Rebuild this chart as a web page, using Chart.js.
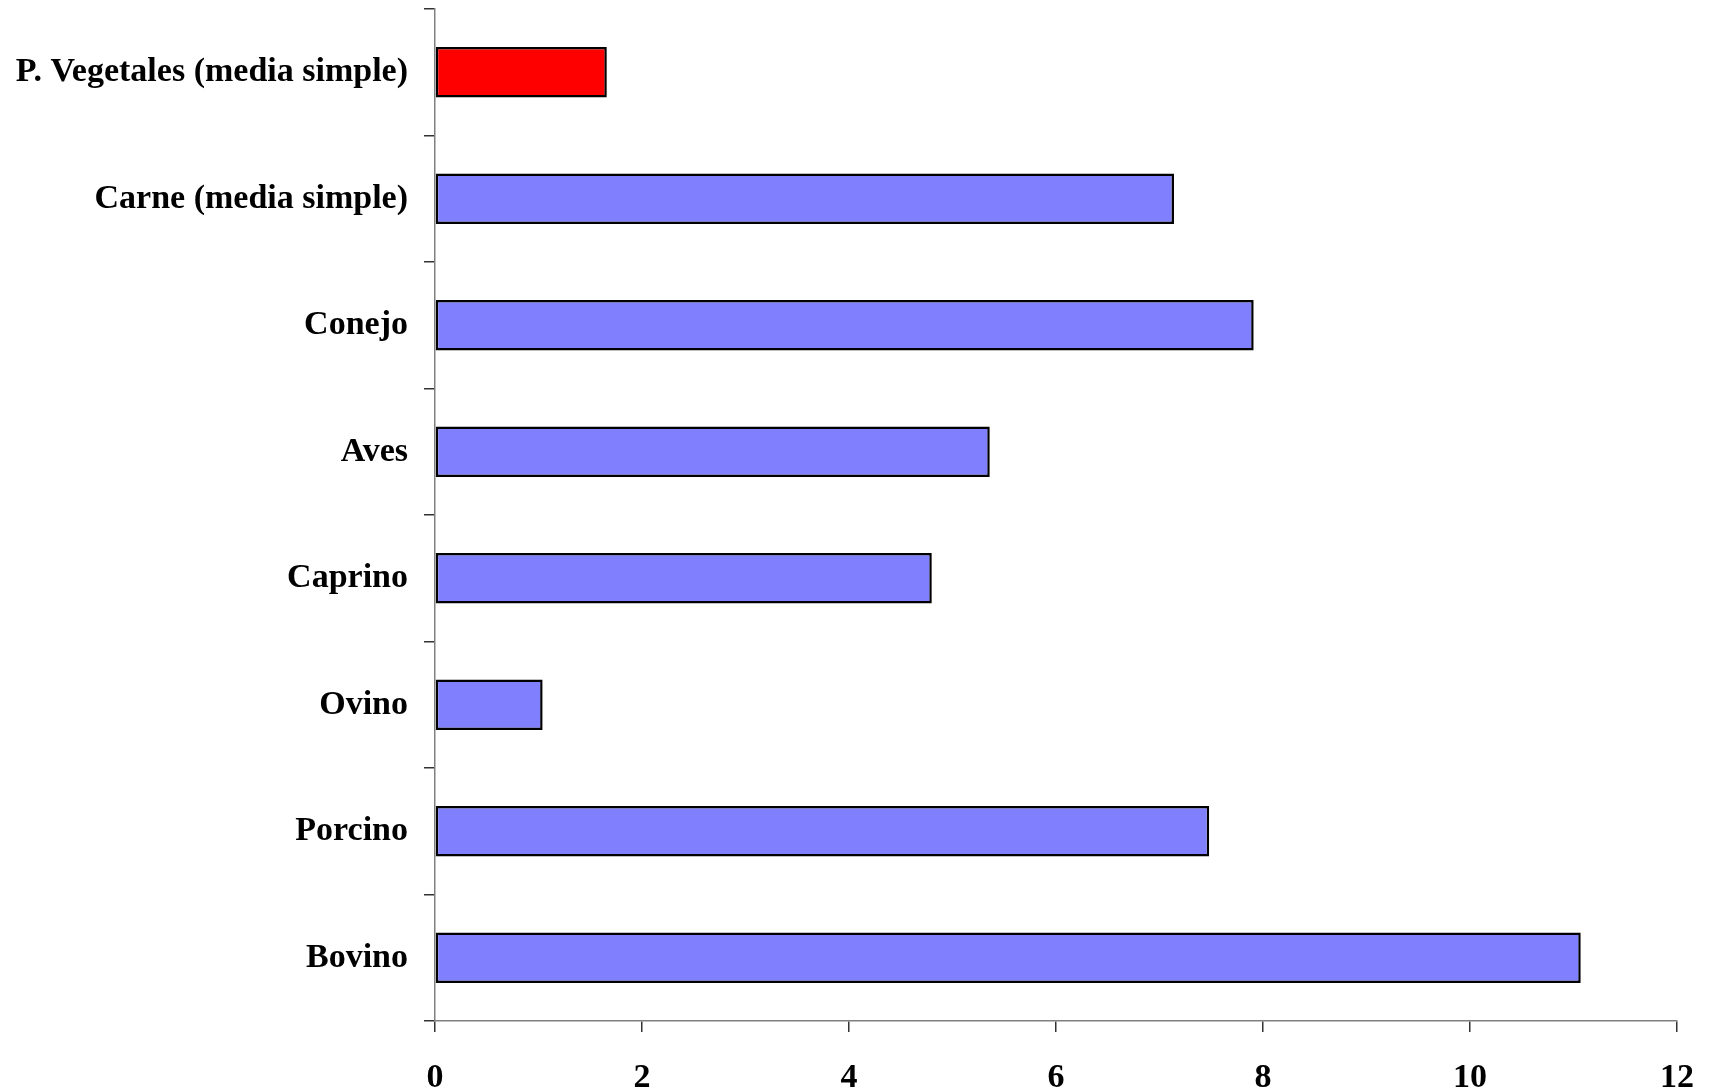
<!DOCTYPE html>
<html>
<head>
<meta charset="utf-8">
<script src="https://cdn.jsdelivr.net/npm/chart.js@4.4.1/dist/chart.umd.min.js"></script>
<style>
  html, body { margin: 0; padding: 0; background: #ffffff; }
  #wrap { width: 1709px; height: 1091px; position: relative; }
</style>
</head>
<body>
<div id="wrap"><canvas id="c" width="1709" height="1091"></canvas></div>
<script>
// Categories, top to bottom
const categories = [
  'P. Vegetales (media simple)',
  'Carne (media simple)',
  'Conejo',
  'Aves',
  'Caprino',
  'Ovino',
  'Porcino',
  'Bovino'
];
// Values per category
const values = [1.66, 7.14, 7.91, 5.36, 4.80, 1.04, 7.48, 11.07];
// Fill colours per category (plant average highlighted)
const barColors = ['#FF0000', '#8080FF', '#8080FF', '#8080FF', '#8080FF', '#8080FF', '#8080FF', '#8080FF'];
// Horizontal axis range and step
const xMin = 0;
const xMax = 12;
const xStep = 2;

const labelFont = { family: '"Liberation Serif", "Times New Roman", serif', size: 34, weight: 'bold' };

new Chart(document.getElementById('c'), {
  type: 'bar',
  data: {
    labels: categories,
    datasets: [{
      data: values,
      backgroundColor: barColors,
      borderColor: '#000000',
      borderWidth: 2.5,
      borderSkipped: false,
      barPercentage: 0.4,
      categoryPercentage: 1.0
    }]
  },
  options: {
    indexAxis: 'y',
    responsive: false,
    animation: false,
    devicePixelRatio: 1,
    layout: { padding: { top: 9, right: 32, left: 0, bottom: 0 } },
    plugins: {
      legend: { display: false },
      tooltip: { enabled: false }
    },
    scales: {
      x: {
        min: xMin,
        max: xMax,
        afterFit: (s) => { s.height = 70; s.paddingLeft = 0; s.paddingRight = 0; },
        ticks: {
          stepSize: xStep,
          color: '#000000',
          font: labelFont,
          padding: 26,
          maxRotation: 0
        },
        grid: {
          drawOnChartArea: false,
          drawTicks: true,
          tickLength: 11,
          color: '#333333',
          lineWidth: 1.5
        },
        border: { display: true, color: '#808080', width: 1.5 }
      },
      y: {
        afterFit: (s) => { s.width = 435; s.paddingTop = 0; s.paddingBottom = 0; },
        ticks: {
          color: '#000000',
          font: labelFont,
          padding: 16
        },
        grid: {
          offset: true,
          drawOnChartArea: false,
          drawTicks: true,
          tickLength: 11,
          color: '#333333',
          lineWidth: 1.5
        },
        border: { display: true, color: '#808080', width: 1.5 }
      }
    }
  }
});
</script>
</body>
</html>
